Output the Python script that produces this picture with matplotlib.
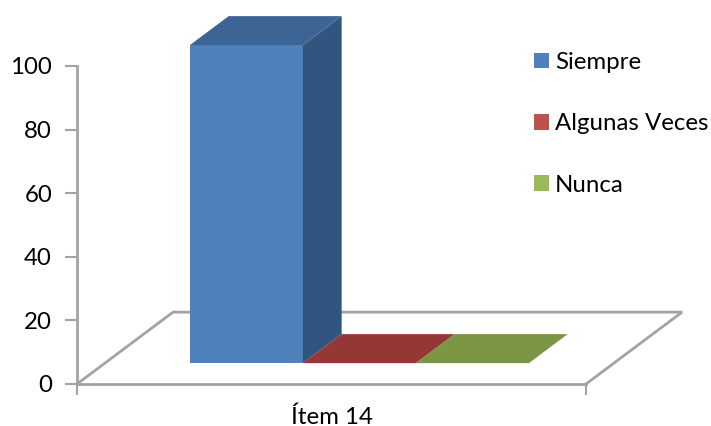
import matplotlib
matplotlib.use('Agg')
import matplotlib.pyplot as plt
from matplotlib.patches import Patch, Polygon

categories = ['Ítem 14']
series_names = ['Siempre', 'Algunas Veces', 'Nunca']
series_values = [100, 0, 0]
y_ticks = [0, 20, 40, 60, 80, 100]

front_colors = ['#4F81BD', '#C0504D', '#9BBB59']
side_colors = ['#32557F', '#8A3836', '#6F8A41']
top_colors = ['#3C6494', '#953735', '#7B9545']
grey = '#A3A3A3'

plt.rcParams['font.family'] = ['Lato', 'DejaVu Sans']
plt.rcParams['font.size'] = 17.3

# oblique projection of the floor depth, in data units
floor_dx = 0.85
floor_dy = 22.6
bar_front = 0.29
bar_back = 0.694
floor_width = 3.654
bar_start = 0.752


def proj(x, value, t):
    return (x + t * floor_dx, value + t * floor_dy)


fig = plt.figure(figsize=(7.11, 4.26), dpi=100)
ax = fig.add_axes([77 / 711, 42 / 426, 509 / 711, 318 / 426])
ax.set_xlim(0, floor_width + floor_dx)
ax.set_ylim(0, 100)
ax.patch.set_visible(False)
for name in ['top', 'right']:
    ax.spines[name].set_visible(False)
for name in ['left', 'bottom']:
    ax.spines[name].set_color(grey)
    ax.spines[name].set_linewidth(2)

# floor outline
x_end = floor_width + floor_dx
floor = [proj(0, 0, 0), proj(0, 0, 1), proj(x_end, 0, 1), proj(x_end, 0, 0)]
ax.plot([p[0] for p in floor], [p[1] for p in floor], color=grey, lw=2,
        clip_on=False, solid_joinstyle='miter', zorder=1)

# bars, back to front
for i, (val, fc, sc, tc) in enumerate(zip(series_values, front_colors, side_colors, top_colors)):
    x0 = bar_start + i
    x1 = x0 + 1
    if val > 0:
        ax.add_patch(Polygon([proj(x0, 0, bar_front), proj(x1, 0, bar_front),
                              proj(x1, val, bar_front), proj(x0, val, bar_front)],
                             fc=fc, ec='none', clip_on=False, zorder=3))
        ax.add_patch(Polygon([proj(x1, 0, bar_front), proj(x1, 0, bar_back),
                              proj(x1, val, bar_back), proj(x1, val, bar_front)],
                             fc=sc, ec='none', clip_on=False, zorder=3))
    ax.add_patch(Polygon([proj(x0, val, bar_front), proj(x1, val, bar_front),
                          proj(x1, val, bar_back), proj(x0, val, bar_back)],
                         fc=tc, ec='none', clip_on=False, zorder=3))

ax.set_yticks(y_ticks)
ax.set_xticks([0, x_end], labels=['', ''])
ax.tick_params(axis='y', length=9, width=1.5, color=grey, pad=9, labelcolor='black')
ax.tick_params(axis='x', length=8, width=1.5, color=grey)
ax.text(x_end / 2, -10.3, categories[0], ha='center', va='center', color='black')

handles = [Patch(fc=c, ec='none') for c in front_colors]
leg = fig.legend(handles, series_names, loc='upper left',
                 bbox_to_anchor=(534 / 711, 1 - 52 / 426), frameon=False,
                 borderpad=0, borderaxespad=0, handlelength=0.62, handleheight=0.62,
                 handletextpad=0.26, labelspacing=1.68, fontsize=17.3)

fig.savefig('out.png', dpi=100)
